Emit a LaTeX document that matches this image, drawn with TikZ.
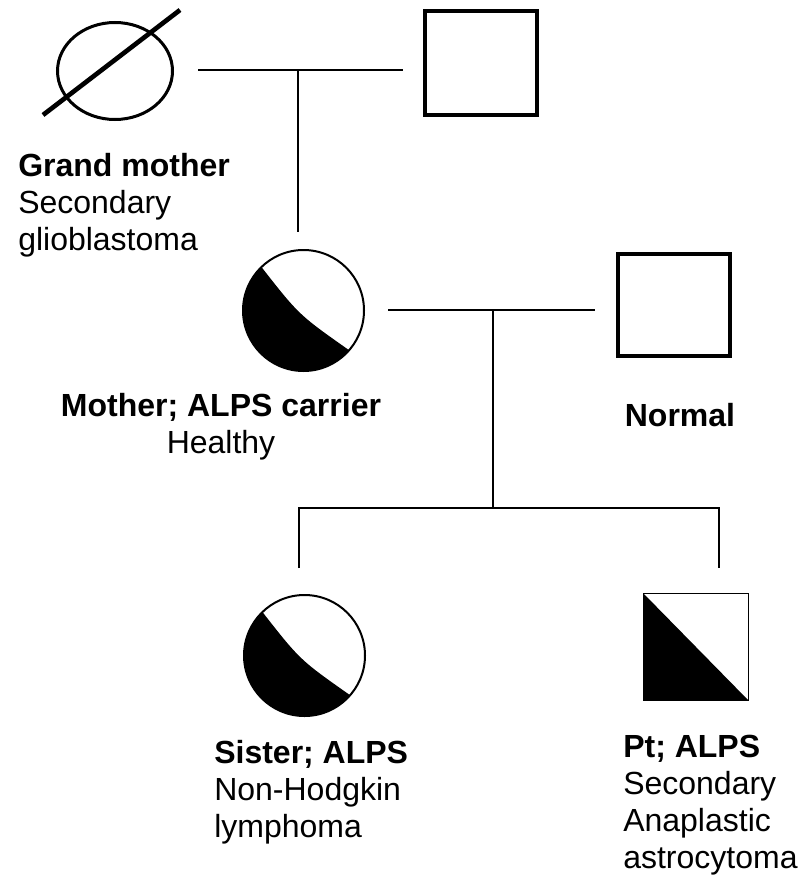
\documentclass[tikz,border=0pt]{standalone}
\usepackage{fontspec}
\setmainfont{Liberation Sans}
\usetikzlibrary{positioning,shapes.geometric}

\begin{document}
\begin{tikzpicture}[x=0.75pt,y=0.75pt]
        \tikzset{dead/.style={draw, ellipse, line width=2.25pt, inner sep=0pt, minimum width=86.25pt, minimum height=72.75pt},
        male/.style={draw, rectangle, line width=3pt, inner sep=0pt, minimum width=84pt, minimum height=78pt},
        carrier/.style={draw, circle, line width=1.5pt, inner sep=0pt, minimum size=90.75pt,
            path picture={\fill[black, shift={(path picture bounding box.center)}]
                (134:61) .. controls (-4.5,-4.5) .. (-41:61) -- (-41:90) -- (-135:120) -- (134:90) -- cycle;}},
        ptbox/.style={draw, rectangle, line width=0.9pt, inner sep=0pt, minimum width=79pt, minimum height=80.5pt,
            path picture={\fill[black] (path picture bounding box.north west) -- (path picture bounding box.south east)
                -- (path picture bounding box.south west) -- cycle;}},
        marriage/.style={line width=1.5pt},
        sibship/.style={line width=2.1pt},
        lbl/.style={inner sep=0pt, font=\fontsize{24}{27.75}\selectfont},
        }
        \useasboundingbox (0,0) rectangle (802,-881);
        \node [dead] (gm) at (115,-71) {};
        \node [male] (gf) at (481,-63) {};
        \node [carrier] (mo) at (303.5,-310.5) {};
        \node [male, minimum height=76.5pt] (fa) at (674,-305) {};
        \node [carrier] (sis) at (304.5,-655.5) {};
        \node [ptbox] (pt) at (696,-647) {};
        \draw[line width=3.5pt] ([shift={(-72,-44)}]gm.center) -- ([shift={(65,61)}]gm.center);
%% labels
        \node [lbl, anchor=north west, align=left] (gmtxt) at (18,-153) {\textbf{Grand mother}\\Secondary\\glioblastoma};
        \node [lbl, anchor=north, align=center] (motxt) at (221,-393) {\textbf{Mother; ALPS carrier}\\Healthy};
        \node [lbl, anchor=north] (fatxt) at (680,-403) {\textbf{Normal}};
        \node [lbl, anchor=north west, align=left] (sistxt) at (214,-740) {\textbf{Sister; ALPS}\\Non-Hodgkin\\lymphoma};
        \node [lbl, anchor=north west, align=left] (pttxt) at (623,-735) {\textbf{Pt; ALPS}\\Secondary\\Anaplastic\\astrocytoma};
%% paths
        \coordinate (m1) at (298,-70);
        \coordinate (m2) at (493,-310);
        \coordinate (sib) at (493,-508);
        \coordinate (sibL) at (299,-508);
        \coordinate (sibR) at (719,-508);
        \draw[marriage, shorten <=18pt, shorten >=15pt] (m1 -| gm.east) -- (m1 -| gf.west);
        \draw[marriage, shorten >=12.75pt] (m1) -- (m1 |- mo.north);
        \draw[marriage, shorten <=17.25pt, shorten >=15.75pt] (m2 -| mo.east) -- (m2 -| fa.west);
        \draw[marriage] (m2) -- (sib);
        \draw[sibship, shorten <=19.5pt, shorten >=18.75pt] (sibL |- sis.north) -- (sibL) -- (sibR) -- (sibR |- pt.north);
    \end{tikzpicture}
\end{document}
